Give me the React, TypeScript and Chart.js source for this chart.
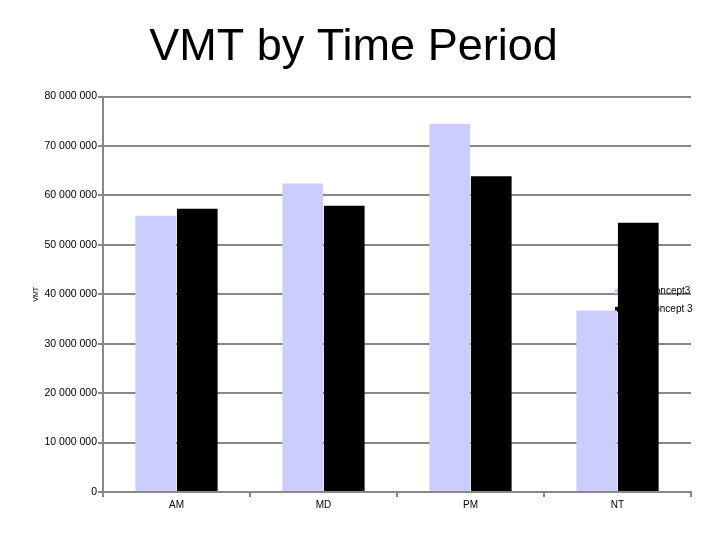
import { useEffect, useRef } from 'react';
import Chart from 'chart.js/auto';

const periods = ['AM', 'MD', 'PM', 'NT'];
const seriesNames = ['Base Concept3', 'Build Concept 3'];
const seriesLight = [55900000, 62400000, 74500000, 36700000];
const seriesDark = [57300000, 57900000, 63900000, 54500000];
const barColors = ['#CCCCFF', '#000000'];

const fmt = (v: number) => String(v).replace(/\B(?=(\d{3})+(?!\d))/g, ' ');

// legend sits inside the plot, drawn before the bars so the NT bar hides part of it
const innerLegend = {
  id: 'innerLegend',
  beforeDatasetsDraw(chart: any) {
    const { ctx, chartArea } = chart;
    const x = chartArea.right - 76;
    const midY = (chartArea.top + chartArea.bottom) / 2;
    ctx.save();
    ctx.font = '10px "Liberation Sans", Arial, sans-serif';
    ctx.textBaseline = 'middle';
    seriesNames.forEach((name, i) => {
      const y = midY - 3 + i * 18;
      ctx.fillStyle = barColors[i];
      ctx.fillRect(x, y - 2.5, 5, 5);
      ctx.fillStyle = '#000';
      ctx.fillText(name, x + 7, y);
    });
    ctx.restore();
  },
};

export default function App() {
  const canvasRef = useRef<HTMLCanvasElement | null>(null);

  useEffect(() => {
    if (!canvasRef.current) return;
    const chart = new Chart(canvasRef.current, {
      type: 'bar',
      data: {
        labels: periods,
        datasets: [
          {
            label: seriesNames[0],
            data: seriesLight,
            backgroundColor: barColors[0],
            categoryPercentage: 0.565,
            barPercentage: 0.98,
          },
          {
            label: seriesNames[1],
            data: seriesDark,
            backgroundColor: barColors[1],
            categoryPercentage: 0.565,
            barPercentage: 0.98,
          },
        ],
      },
      options: {
        animation: false,
        responsive: false,
        layout: { padding: { left: 16, right: 29, top: 0, bottom: 0 } },
        plugins: {
          legend: { display: false },
          tooltip: { enabled: false },
          title: {
            display: true,
            text: 'VMT by Time Period',
            color: '#000',
            font: { family: '"Liberation Sans", Arial, sans-serif', size: 45, weight: 'normal' },
            padding: { top: 21, bottom: 21.6 },
          },
        },
        scales: {
          x: {
            offset: true,
            grid: { display: true, drawOnChartArea: false, color: '#888', lineWidth: 2, tickLength: 5 },
            border: { color: '#888', width: 2 },
            ticks: {
              color: '#000',
              padding: 2,
              font: { family: '"Liberation Sans", Arial, sans-serif', size: 10 },
            },
            afterFit: (scale: any) => { scale.height = 48; },
          },
          y: {
            min: 0,
            max: 80000000,
            grid: { color: '#888', lineWidth: 2, tickLength: 5 },
            border: { color: '#888', width: 2 },
            ticks: {
              stepSize: 10000000,
              color: '#000',
              padding: 1,
              font: { family: '"Liberation Sans", Arial, sans-serif', size: 10.5 },
              callback: (v: any) => fmt(Number(v)),
            },
            title: {
              display: true,
              text: 'VMT',
              color: '#000',
              padding: { top: 16, bottom: 0 },
              font: { family: '"Liberation Sans", Arial, sans-serif', size: 7 },
            },
            afterFit: (scale: any) => { scale.width = 87; },
          },
        },
      },
      plugins: [innerLegend],
    });
    return () => chart.destroy();
  }, []);

  return (
    <div style={{ position: 'fixed', left: 0, top: 0, width: 720, height: 540, background: '#fff' }}>
      <canvas ref={canvasRef} width={720} height={540} style={{ width: 720, height: 540 }}></canvas>
    </div>
  );
}
